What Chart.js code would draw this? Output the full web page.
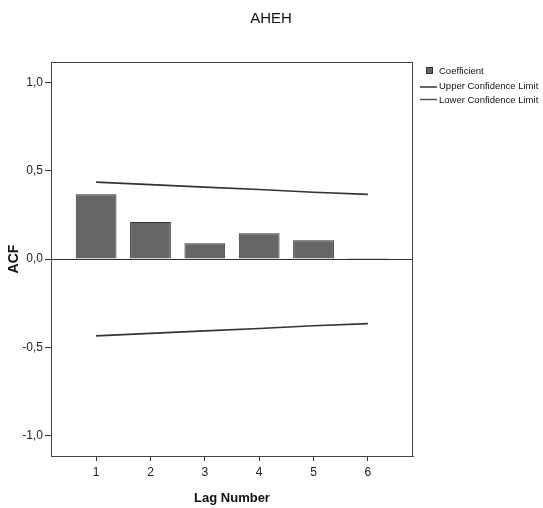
<!DOCTYPE html>
<html>
<head>
<meta charset="utf-8">
<script src="https://cdn.jsdelivr.net/npm/chart.js@4/dist/chart.umd.min.js"></script>
<style>
  body { margin: 0; background: #fff; }
  canvas { display: block; }
</style>
</head>
<body>
<canvas id="acf" width="543" height="508"></canvas>
<script>
const lags = [1, 2, 3, 4, 5, 6];
const coefficients = [0.367, 0.21, 0.089, 0.146, 0.106, 0.006];
const upperLimits = [0.435, 0.421, 0.407, 0.393, 0.378, 0.366];
const lowerLimits = [-0.435, -0.421, -0.407, -0.393, -0.378, -0.366];
const yTicks = [-1, -0.5, 0, 0.5, 1];
const legendLabels = ['Coefficient', 'Upper Confidence Limit', 'Lower Confidence Limit'];

const sans = "'Liberation Sans', Arial, sans-serif";

const toPoints = values => values.map((v, i) => ({ x: lags[i], y: v }));

// title, frame and legend drawn by hand
const decorations = {
  id: 'decorations',
  beforeDatasetsDraw(chart) {
    const { ctx, chartArea } = chart;
    ctx.save();
    ctx.strokeStyle = '#444';
    ctx.lineWidth = 1;
    ctx.strokeRect(chartArea.left + 0.5, chartArea.top + 0.5,
      chartArea.right - chartArea.left - 1, chartArea.bottom - chartArea.top);
    ctx.restore();
  },
  afterDraw(chart) {
    const { ctx } = chart;
    ctx.save();
    ctx.fillStyle = '#111';
    ctx.font = '15px ' + sans;
    ctx.textAlign = 'center';
    ctx.textBaseline = 'middle';
    ctx.fillText('AHEH', 271, 19);

    ctx.font = '9.5px ' + sans;
    ctx.textAlign = 'left';
    ctx.fillStyle = '#666';
    ctx.strokeStyle = '#333';
    ctx.fillRect(426, 67, 7, 7);
    ctx.strokeRect(426.5, 67.5, 6, 6);
    ctx.lineWidth = 1.5;
    ctx.beginPath();
    ctx.moveTo(420, 87);
    ctx.lineTo(437, 87);
    ctx.stroke();
    ctx.strokeStyle = '#555';
    ctx.beginPath();
    ctx.moveTo(420, 99.5);
    ctx.lineTo(437, 99.5);
    ctx.stroke();
    ctx.fillStyle = '#111';
    ctx.fillText(legendLabels[0], 439, 71);
    ctx.fillText(legendLabels[1], 439, 86);
    ctx.fillText(legendLabels[2], 439, 100);
    ctx.restore();
  }
};

new Chart(document.getElementById('acf'), {
  type: 'bar',
  data: {
    datasets: [
      {
        label: 'Coefficient',
        data: toPoints(coefficients),
        backgroundColor: '#666666',
        borderColor: '#333333',
        borderWidth: 1,
        categoryPercentage: 1,
        barPercentage: 0.75,
        order: 2
      },
      {
        type: 'line',
        label: 'Upper Confidence Limit',
        data: toPoints(upperLimits),
        borderColor: '#333333',
        borderWidth: 1.6,
        pointRadius: 0,
        tension: 0,
        order: 1
      },
      {
        type: 'line',
        label: 'Lower Confidence Limit',
        data: toPoints(lowerLimits),
        borderColor: '#333333',
        borderWidth: 1.6,
        pointRadius: 0,
        tension: 0,
        order: 1
      }
    ]
  },
  options: {
    responsive: false,
    animation: false,
    layout: { padding: { top: 62, right: 130, bottom: 0, left: 0 } },
    plugins: {
      legend: { display: false },
      tooltip: { enabled: false }
    },
    scales: {
      x: {
        type: 'linear',
        min: 0.17,
        max: 6.83,
        offset: false,
        afterBuildTicks: scale => { scale.ticks = lags.map(v => ({ value: v })); },
        afterFit: scale => { scale.height = 52; },
        grid: { display: true, offset: false, drawOnChartArea: false, tickLength: 5, tickColor: '#333' },
        border: { display: true, color: '#444' },
        ticks: {
          color: '#222',
          padding: 4,
          maxRotation: 0,
          font: { family: sans, size: 12 },
          callback: v => String(v)
        },
        title: {
          display: true,
          text: 'Lag Number',
          color: '#111',
          padding: { top: 0, bottom: 2 },
          font: { family: sans, size: 13, weight: 'bold' }
        }
      },
      y: {
        min: -1.115,
        max: 1.115,
        afterBuildTicks: scale => { scale.ticks = yTicks.map(v => ({ value: v })); },
        afterFit: scale => { scale.width = 51; },
        grid: {
          display: true,
          drawOnChartArea: true,
          tickLength: 6,
          tickColor: '#333',
          color: c => (c.tick && c.tick.value === 0 ? '#333' : 'rgba(0,0,0,0)')
        },
        border: { display: true, color: '#444' },
        ticks: {
          color: '#222',
          padding: 2,
          font: { family: sans, size: 12 },
          callback: v => v.toFixed(1).replace('.', ',')
        },
        title: {
          display: true,
          text: 'ACF',
          color: '#111',
          padding: { top: 6, bottom: 0 },
          font: { family: sans, size: 14, weight: 'bold' }
        }
      }
    }
  },
  plugins: [decorations]
});
</script>
</body>
</html>
